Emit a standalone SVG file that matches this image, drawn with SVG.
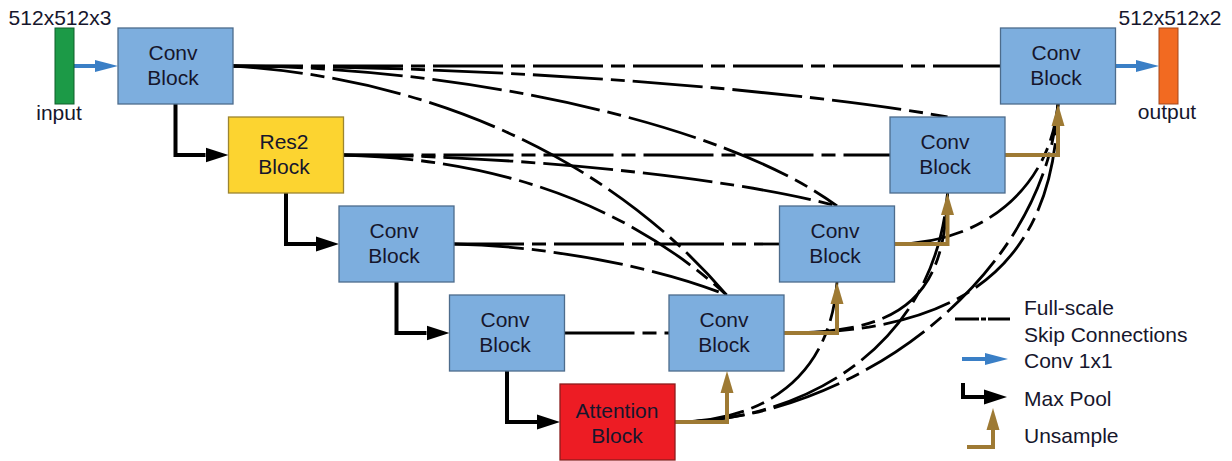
<svg xmlns="http://www.w3.org/2000/svg" width="1232" height="461" viewBox="0 0 1232 461">
  <style>
    .blk{fill:#7DAEDE;stroke:#4D6C8C;stroke-width:1.3}
    .res{fill:#FCD430;stroke:#9C8530;stroke-width:1.3}
    .att{fill:#ED1C24;stroke:#8C1D1D;stroke-width:1.3}
    text{font-family:"Liberation Sans",Arial,sans-serif;font-size:21px;fill:#16162c}
    .c{text-anchor:middle}
    .lg{font-size:21px}
    .skip{fill:none;stroke:#000;stroke-width:2.8;stroke-dasharray:70 8 14 8}
    .pool{fill:none;stroke:#000;stroke-width:4;marker-end:url(#ah-pool)}
    .up{fill:none;stroke:#9E7A34;stroke-width:4;marker-end:url(#ah-up)}
    .conv{fill:none;stroke:#3A7FC6;stroke-width:4;marker-end:url(#ah-conv)}
  </style>
  <defs>
    <marker id="ah-pool" markerUnits="userSpaceOnUse" viewBox="0 0 23 16" markerWidth="23" markerHeight="16" refX="0" refY="8" orient="auto">
      <path d="M0,0.5 L23,8 L0,15.5 Z" fill="#000"/>
    </marker>
    <marker id="ah-conv" markerUnits="userSpaceOnUse" viewBox="0 0 23 13" markerWidth="23" markerHeight="13" refX="0" refY="6.5" orient="auto">
      <path d="M0,0.5 L23,6.5 L0,12.5 Z" fill="#3A7FC6"/>
    </marker>
    <marker id="ah-up" markerUnits="userSpaceOnUse" viewBox="0 0 22 14" markerWidth="22" markerHeight="14" refX="0" refY="7" orient="auto">
      <path d="M0,0.5 L22,7 L0,13.5 Z" fill="#9E7A34"/>
    </marker>
  </defs>

  <!-- connectors -->
  <g id="connectors">
    <!-- same-level skip connections -->
    <path class="skip" d="M233,66 H1000.5"/>
    <path class="skip" d="M343.5,155 H890"/>
    <path class="skip" d="M454,244 H779.5"/>
    <path class="skip" d="M564.5,333 H669"/>
    <!-- encoder to lower decoders -->
    <path class="skip" d="M233,66 C500,66 800,90 947.5,117"/>
    <path class="skip" d="M233,66 C450,66 720,120 837,206"/>
    <path class="skip" d="M233,66 C450,80 620,170 726.5,295"/>
    <path class="skip" d="M343.5,155 C500,155 720,175 837,206"/>
    <path class="skip" d="M343.5,155 C450,158 600,180 726.5,295"/>
    <path class="skip" d="M454,244 C550,246 660,268 726.5,295"/>
    <!-- lower decoders to upper decoders -->
    <path class="skip" d="M675,422 C760,422 830,380 837,282"/>
    <path class="skip" d="M675,422 C800,422 935,350 947.5,193"/>
    <path class="skip" d="M675,422 C850,422 1045,280 1058,104"/>
    <path class="skip" d="M784,333 C900,333 945,300 947.5,193"/>
    <path class="skip" d="M784,333 C930,333 1055,290 1058,104"/>
    <path class="skip" d="M894.5,244 C980,244 1050,190 1058,104"/>

    <!-- max pool -->
    <path class="pool" d="M175.5,104 V155 H205.5"/>
    <path class="pool" d="M286,193 V244 H316"/>
    <path class="pool" d="M396.5,282 V333 H426.5"/>
    <path class="pool" d="M507,371 V422 H537"/>

    <!-- upsample -->
    <path class="up" d="M675,422 H727 V393"/>
    <path class="up" d="M784,333 H837 V304"/>
    <path class="up" d="M894.5,244 H947.5 V215"/>
    <path class="up" d="M1005,155 H1058 V126"/>

    <!-- conv 1x1 -->
    <path class="conv" d="M74,66 H95"/>
    <path class="conv" d="M1115.5,66 H1136"/>
  </g>

  <!-- input / output -->
  <g id="input">
    <rect x="55" y="28" width="19" height="76" fill="#1C9A47" stroke="#0F5E2B" stroke-width="1"/>
    <text class="c" x="60" y="25">512x512x3</text>
    <text class="c" x="59" y="120">input</text>
  </g>
  <g id="output">
    <rect x="1159" y="28" width="19" height="76" fill="#F26A21" stroke="#A4461A" stroke-width="1"/>
    <text class="c" x="1170" y="25">512x512x2</text>
    <text class="c" x="1167" y="119">output</text>
  </g>

  <!-- encoder -->
  <g id="enc1">
    <rect class="blk" x="118" y="28" width="115" height="76"/>
    <text class="c" x="173" y="60">Conv</text>
    <text class="c" x="173" y="85">Block</text>
  </g>
  <g id="enc2">
    <rect class="res" x="228.5" y="117" width="115" height="76"/>
    <text class="c" x="284" y="149">Res2</text>
    <text class="c" x="284" y="174">Block</text>
  </g>
  <g id="enc3">
    <rect class="blk" x="339" y="206" width="115" height="76"/>
    <text class="c" x="394" y="238">Conv</text>
    <text class="c" x="394" y="263">Block</text>
  </g>
  <g id="enc4">
    <rect class="blk" x="449.5" y="295" width="115" height="76"/>
    <text class="c" x="505" y="327">Conv</text>
    <text class="c" x="505" y="352">Block</text>
  </g>

  <!-- bottleneck -->
  <g id="attention">
    <rect class="att" x="560" y="384" width="115" height="76"/>
    <text class="c" x="617" y="418">Attention</text>
    <text class="c" x="617" y="443">Block</text>
  </g>

  <!-- decoder -->
  <g id="dec4">
    <rect class="blk" x="669" y="295" width="115" height="76"/>
    <text class="c" x="724" y="327">Conv</text>
    <text class="c" x="724" y="352">Block</text>
  </g>
  <g id="dec3">
    <rect class="blk" x="779.5" y="206" width="115" height="76"/>
    <text class="c" x="835" y="238">Conv</text>
    <text class="c" x="835" y="263">Block</text>
  </g>
  <g id="dec2">
    <rect class="blk" x="890" y="117" width="115" height="76"/>
    <text class="c" x="945" y="149">Conv</text>
    <text class="c" x="945" y="174">Block</text>
  </g>
  <g id="dec1">
    <rect class="blk" x="1000.5" y="28" width="115" height="76"/>
    <text class="c" x="1056" y="60">Conv</text>
    <text class="c" x="1056" y="85">Block</text>
  </g>

  <!-- legend -->
  <g id="legend">
    <path d="M955,319 H1010" fill="none" stroke="#000" stroke-width="2.8" stroke-dasharray="24 2 5 2"/>
    <text class="lg" x="1024" y="315">Full-scale</text>
    <text class="lg" x="1024" y="342">Skip Connections</text>
    <path class="conv" d="M962,359 H985"/>
    <text class="lg" x="1024" y="368">Conv 1x1</text>
    <path class="pool" d="M963,383 V397 H984"/>
    <text class="lg" x="1024" y="406">Max Pool</text>
    <path class="up" d="M967,447 H993 V430"/>
    <text class="lg" x="1024" y="443">Unsample</text>
  </g>
</svg>
